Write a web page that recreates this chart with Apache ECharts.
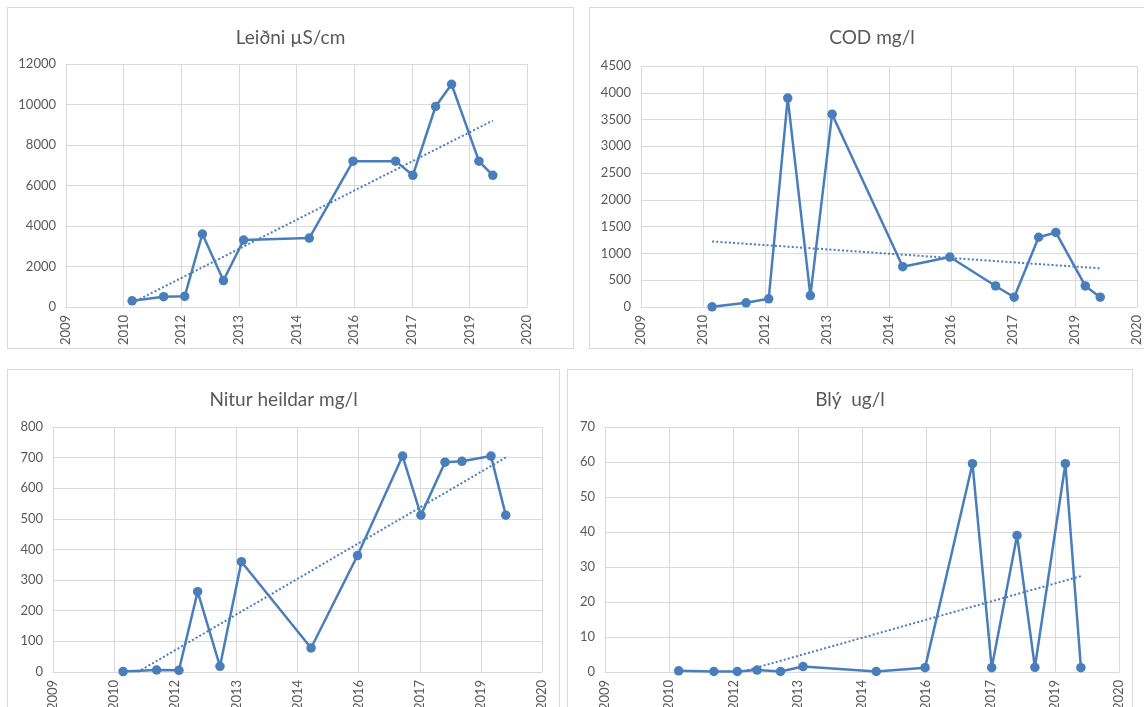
<!DOCTYPE html>
<html><head><meta charset="utf-8">
<script src="https://cdn.jsdelivr.net/npm/echarts@6/dist/echarts.min.js"></script>
<style>
html,body{margin:0;padding:0;background:#fff;width:1144px;height:707px;overflow:hidden;position:relative;}
.panel{position:absolute;border:1px solid #d9d9d9;box-sizing:border-box;background:#fff;}
</style></head><body>
<div id="p1" class="panel" style="left:7px;top:7px;width:567px;height:342px"></div>
<div id="p2" class="panel" style="left:589px;top:7px;width:566px;height:342px"></div>
<div id="p3" class="panel" style="left:7px;top:369px;width:553px;height:345px"></div>
<div id="p4" class="panel" style="left:567px;top:369px;width:566px;height:345px"></div>
<script>
// ---- data ----
const tickLabels = ['2009','2010','2012','2013','2014','2016','2017','2019','2020'];
const AXIS_START = 2009.45;   // decimal year of first tick
const TICK_STEP = 1.369;      // years between ticks
const dates = [2011.02, 2011.77, 2012.27, 2012.69, 2013.19, 2013.67, 2015.23,
               2016.27, 2017.28, 2017.69, 2018.23, 2018.61, 2019.26, 2019.59];
const leidni = [300, 500, 520, 3600, 1300, 3300, 3400, 7200, 7200, 6500, 9900, 11000, 7200, 6500];
const cod    = [0, 75, 150, 3900, 210, 3600, 750, 930, 390, 180, 1300, 1390, 390, 180];
const nitur  = [1, 6, 5, 262, 18, 360, 78, 380, 705, 512, 685, 688, 705, 512];
const bly    = [0.3, 0.1, 0.1, 0.5, 0.1, 1.5, 0.1, 1.2, 59.5, 1.2, 39, 1.3, 59.5, 1.2];
const titles = ['Leiðni µS/cm', 'COD mg/l', 'Nitur heildar mg/l', 'Blý  ug/l'];
const yMax = [12000, 4500, 800, 70];
const yStep = [2000, 500, 100, 10];

// ---- layout ----
const panels = [
  {id:'p1', values:leidni, grid:{left:58, top:56, width:461, height:245}},
  {id:'p2', values:cod,    grid:{left:51, top:58, width:496, height:245}},
  {id:'p3', values:nitur,  grid:{left:45, top:57, width:489, height:247}},
  {id:'p4', values:bly,    grid:{left:37, top:57, width:514, height:245}}
];
const FONT = 'Lato, "Noto Sans", sans-serif';
const BLUE = '#4a7ebb';
const TXT = '#595959';
const GRID = '#d9d9d9';

function toTick(d){ return (d - AXIS_START) / TICK_STEP; }

function trend(xs, ys){
  const n = xs.length;
  const mx = xs.reduce((a,b)=>a+b,0)/n, my = ys.reduce((a,b)=>a+b,0)/n;
  let sxy=0, sxx=0;
  for(let i=0;i<n;i++){ sxy+=(xs[i]-mx)*(ys[i]-my); sxx+=(xs[i]-mx)*(xs[i]-mx); }
  const b = sxy/sxx, a = my - b*mx;
  const x0 = xs[0], x1 = xs[n-1];
  return [[x0, a+b*x0],[x1, a+b*x1]];
}

panels.forEach((p, i) => {
  const chart = echarts.init(document.getElementById(p.id), null, {renderer:'canvas'});
  const xs = dates.map(toTick);
  const pts = xs.map((x,k)=>[x, p.values[k]]);
  chart.setOption({
    animation:false,
    title:{text:titles[i], left:'center', top:15,
      textStyle:{fontFamily:FONT, fontSize:19, fontWeight:'normal', color:TXT}},
    grid:p.grid,
    xAxis:{type:'value', min:0, max:8, interval:1,
      axisLine:{show:true, lineStyle:{color:GRID, width:1}},
      axisTick:{show:false},
      splitLine:{show:true, lineStyle:{color:GRID, width:1}},
      axisLabel:{rotate:90, margin:8, color:TXT, fontFamily:FONT, fontSize:13,
        formatter:(v)=>tickLabels[Math.round(v)]}},
    yAxis:{type:'value', min:0, max:yMax[i], interval:yStep[i],
      axisLine:{show:false}, axisTick:{show:false},
      splitLine:{show:true, lineStyle:{color:GRID, width:1}},
      axisLabel:{margin:10, color:TXT, fontFamily:FONT, fontSize:13,
        formatter:(v)=>String(v)}},
    series:[
      {type:'line', data:trend(xs, p.values), symbol:'none', clip:true, z:1,
        lineStyle:{color:BLUE, width:2, type:[2,2.2]}},
      {type:'line', data:pts, symbol:'circle', symbolSize:9.5, z:2,
        itemStyle:{color:BLUE}, lineStyle:{color:BLUE, width:2.5}}
    ]
  });
});
</script>
</body></html>
